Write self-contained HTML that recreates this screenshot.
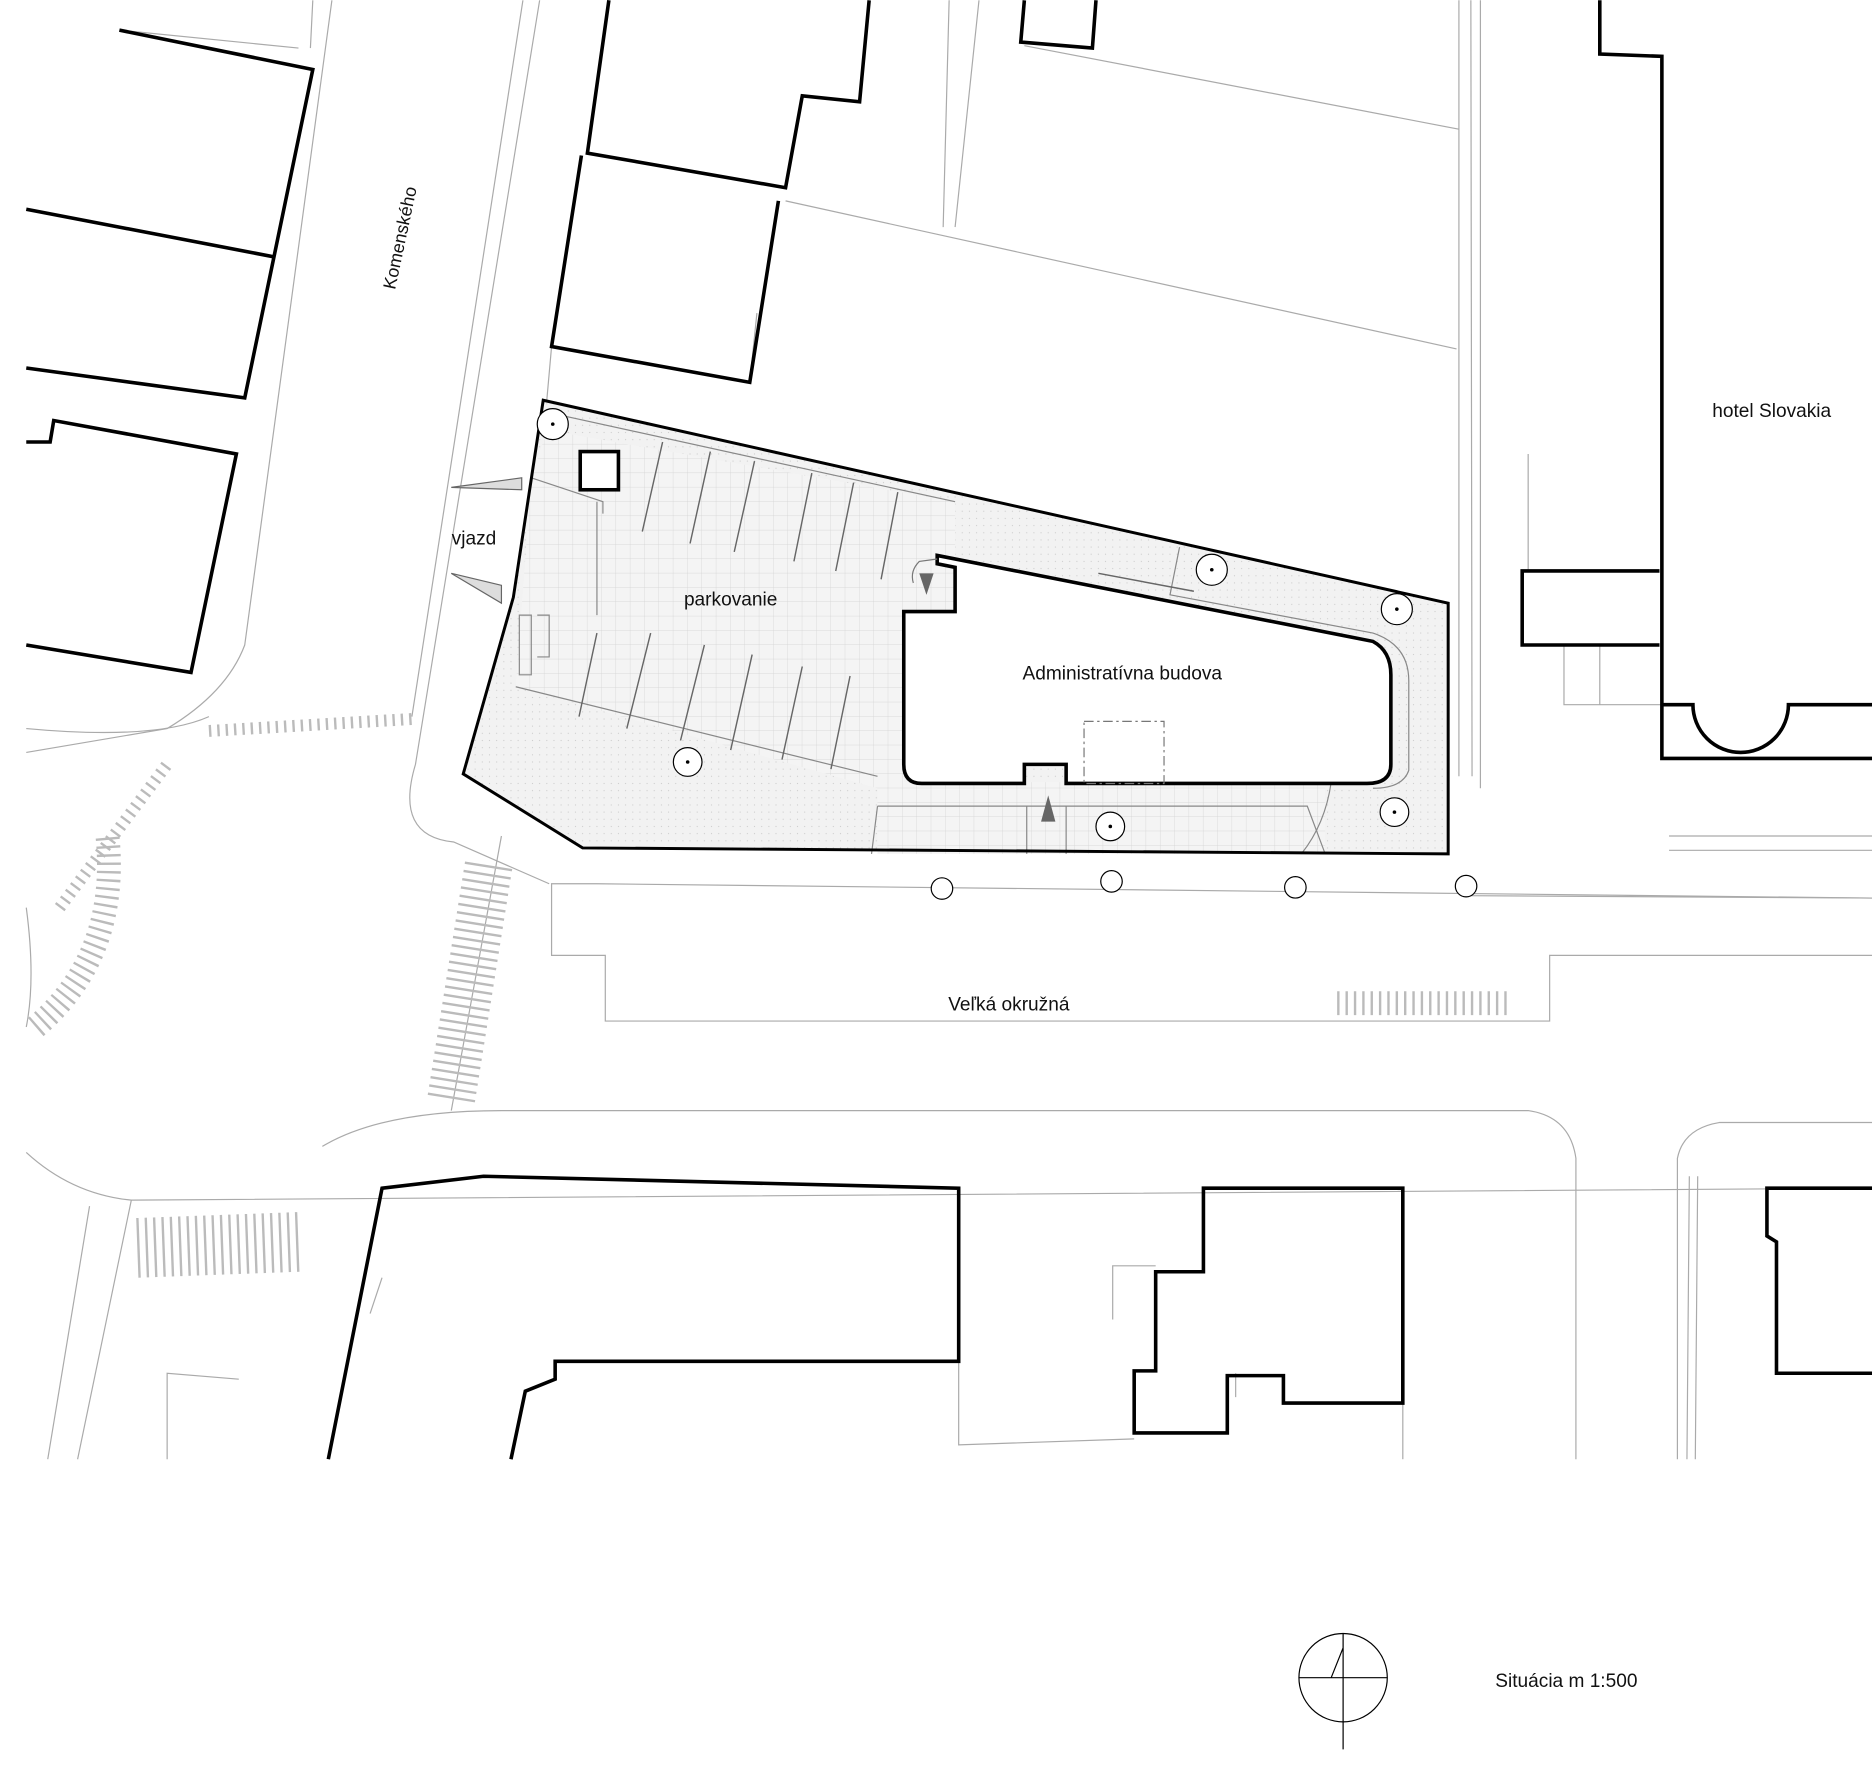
<!DOCTYPE html>
<html><head><meta charset="utf-8"><style>
html,body{margin:0;padding:0;background:#fff}
svg{display:block}
text{font-family:"Liberation Sans",sans-serif;fill:#111}
</style></head><body>
<svg width="1872" height="1789" viewBox="0 0 1568 1498" xmlns="http://www.w3.org/2000/svg">
<defs>
<pattern id="g" width="12" height="12" patternUnits="userSpaceOnUse">
<rect width="12" height="12" fill="#f4f4f4"/>
<path d="M12 0V12H0" fill="none" stroke="#d2d2d2" stroke-width="0.6"/>
</pattern>
<pattern id="d" width="6" height="6" patternUnits="userSpaceOnUse">
<rect width="6" height="6" fill="#f2f2f2"/><circle cx="2" cy="2" r="0.5" fill="#ccc"/>
</pattern>
</defs>
<rect width="1568" height="1498" fill="#fff"/>

<!-- thin road lines -->
<g fill="none" stroke="#aaa" stroke-width="1">
<path d="M262 0 L260 40 M278 0 L205 540 Q190 580 140 610 L22 630"/>
<path d="M452 0 L348 640 Q330 700 380 705 L460 740"/>
<path d="M438 0 L345 600"/>
<path d="M22 610 Q130 620 175 600"/>
<path d="M1568 752 L500 740 L462 740 L462 800 L507 800 L507 855 L1298 855 L1298 800 L1568 800"/>
<path d="M1568 752 L1230 750"/>
<path d="M22 760 Q30 820 22 860"/>
<path d="M378 930 L420 700"/>
<path d="M22 965 Q60 1000 110 1005 L1568 995"/>
<path d="M270 960 Q320 930 420 930 L1280 930 Q1315 935 1320 970 L1320 1222"/>
<path d="M1405 1222 L1405 970 Q1410 945 1440 940 L1568 940"/>
<path d="M1413 1222 L1415 985 M1420 1222 L1422 985"/>
<path d="M110 1005 L65 1222 M75 1010 L40 1222"/>
<path d="M803 995 L803 1210 L950 1205"/>
<path d="M1175 1175 L1175 1222"/>
<path d="M795 0 L790 190 M820 0 L800 190"/>
<path d="M658 168 L1220 292 M858 38 L1222 108"/>
<path d="M1222 0 L1222 650 M1232 0 L1233 650 M1240 0 L1240 660"/>
<path d="M1280 380 L1280 478 M1310 540 L1310 590 L1392 590 M1340 540 L1340 590"/>
<path d="M1398 700 L1568 700 M1398 712 L1568 712"/>
<path d="M628 320 L634 262 M462 290 L458 335"/>
<path d="M310 1100 L320 1070 M140 1222 L140 1150 L200 1155"/>
<path d="M932 1105 L932 1060 L968 1060"/>
<path d="M1035 1170 L1035 1150"/>
<path d="M250 40 L100 25"/>
</g>

<!-- crosswalks -->
<g stroke="#bbb" stroke-width="10" stroke-dasharray="2 5" fill="none">
<path d="M175 612 L345 602"/>
<path d="M50 760 L140 640"/>
<path d="M30 860 Q100 800 90 700" stroke-width="20"/>
<path d="M378 920 L410 720" stroke-width="40"/>
<path d="M115 1045 L250 1040" stroke-width="50"/>
<path d="M1120 840 L1265 840" stroke-width="20"/>
</g>

<!-- site -->
<path d="M455 335 L1213 505 L1213 715 L488 710 L388 648 L430 500 Z" fill="url(#d)" stroke="none"/>
<path d="M458 360 L800 420 L800 540 L757 540 L757 655 L735 660 L432 575 L445 400 Z" fill="url(#g)"/>
<path d="M735 655 L1110 655 L1110 715 L735 715 Z" fill="url(#g)"/>
<g fill="none" stroke="#888" stroke-width="1">
<path d="M458 345 L800 420 M500 420 L500 515 M445 400 L505 420 L505 430"/>
<path d="M432 575 L735 650 M735 675 L1095 675 L1110 715 M735 675 L730 715"/>
<path d="M1115 655 Q1110 690 1090 715"/>
<path d="M988 458 L980 498 L1150 530 Q1180 540 1180 570 L1180 645 Q1175 660 1150 660"/>
<path d="M860 675 L860 715 M893 675 L893 715"/>
<path d="M435 515 L445 515 L445 565 L435 565 Z M450 515 L460 515 L460 550 L450 550"/>
</g>
<g stroke="#666" stroke-width="1.2">
<path d="M555 370 L538 445 M595 378 L578 455 M632 386 L615 462 M680 396 L665 470 M715 404 L700 478 M752 412 L738 485"/>
<path d="M500 530 L485 600 M545 530 L525 610 M590 540 L570 620 M630 548 L612 628 M672 558 L655 636 M712 566 L696 644"/>
<path d="M920 480 L1000 495"/>
</g>
<path d="M455 335 L1213 505 L1213 715 L488 710 L388 648 L430 500 Z" fill="none" stroke="#000" stroke-width="2.5"/>
<rect x="486" y="378" width="32" height="32" fill="#fff" stroke="#000" stroke-width="3"/>

<!-- vjazd funnels -->
<path d="M378 408 L437 400 L437 410 Z M378 480 L420 490 L420 505 Z" fill="#ddd" stroke="#666"/>

<!-- admin building -->
<path d="M785 465 L1150 537 Q1165 545 1165 565 L1165 640 Q1165 656 1145 656 L893 656 L893 640 L858 640 L858 656 L772 656 Q757 656 757 640 L757 512 L800 512 L800 475 L785 472 Z" fill="#fff" stroke="#000" stroke-width="3"/>
<path d="M785 468 L770 470 Q762 478 765 488" fill="none" stroke="#777"/>
<rect x="908" y="604" width="67" height="52" fill="none" stroke="#777" stroke-dasharray="8 3 2 3"/>
<path d="M770 480 L782 480 L776 498 Z" fill="#666"/>
<path d="M878 666 L884 688 L872 688 Z" fill="#666"/>

<!-- trees -->
<g fill="#fff" stroke="#000" stroke-width="1">
<circle cx="463" cy="355" r="13"/><circle cx="576" cy="638" r="12"/><circle cx="1015" cy="477" r="13"/><circle cx="1170" cy="510" r="13"/><circle cx="930" cy="692" r="12"/><circle cx="1168" cy="680" r="12"/>
<circle cx="789" cy="744" r="9"/><circle cx="931" cy="738" r="9"/><circle cx="1085" cy="743" r="9"/><circle cx="1228" cy="742" r="9"/>
</g>
<g fill="#000"><circle cx="463" cy="355" r="1.5"/><circle cx="576" cy="638" r="1.5"/><circle cx="1015" cy="477" r="1.5"/><circle cx="1170" cy="510" r="1.5"/><circle cx="930" cy="692" r="1.5"/><circle cx="1168" cy="680" r="1.5"/></g>

<!-- buildings thick -->
<g fill="none" stroke="#000" stroke-width="3">
<path d="M100 25 L262 58 L205 333 L22 308"/>
<path d="M22 175 L230 215"/>
<path d="M22 370 L42 370 L45 352 L198 380 L160 563 L22 540"/>
<path d="M510 0 L492 128 L658 157 L672 80 L720 85 L728 0"/>
<path d="M487 130 L462 290 L628 320 L652 168"/>
<path d="M858 0 L855 35 L915 40 L918 0"/>
<path d="M1340 0 L1340 45 L1392 47 L1392 635 L1568 635"/>
<path d="M1392 590 L1418 590 A40 40 0 0 0 1498 590 L1568 590"/>
<path d="M1390 478 L1275 478 L1275 540 L1390 540"/>
<path d="M275 1222 L320 995 L405 985 L803 995 L803 1140 L465 1140 L465 1155 L440 1165 L428 1222"/>
<path d="M1008 995 L1175 995 L1175 1175 L1075 1175 L1075 1152 L1028 1152 L1028 1200 L950 1200 L950 1148 L968 1148 L968 1065 L1008 1065 Z"/>
<path d="M1568 995 L1480 995 L1480 1035 L1488 1040 L1488 1150 L1568 1150"/>
</g>

<!-- north -->
<circle cx="1125" cy="1405" r="37" fill="none" stroke="#000"/>
<path d="M1088 1405 L1162 1405 M1125 1368 L1125 1465 M1125 1380 L1115 1405" fill="none" stroke="#000"/>

<!-- labels -->
<text x="340" y="200" font-size="15" text-anchor="middle" transform="rotate(-78 340 200)">Komenského</text>
<text x="397" y="456" font-size="16" text-anchor="middle">vjazd</text>
<text x="612" y="507" font-size="16" text-anchor="middle">parkovanie</text>
<text x="940" y="569" font-size="16" text-anchor="middle">Administratívna budova</text>
<text x="1484" y="349" font-size="16" text-anchor="middle">hotel Slovakia</text>
<text x="845" y="846" font-size="16" text-anchor="middle">Veľká okružná</text>
<text x="1312" y="1413" font-size="16" text-anchor="middle">Situácia  m 1:500</text>
</svg>
</body></html>
